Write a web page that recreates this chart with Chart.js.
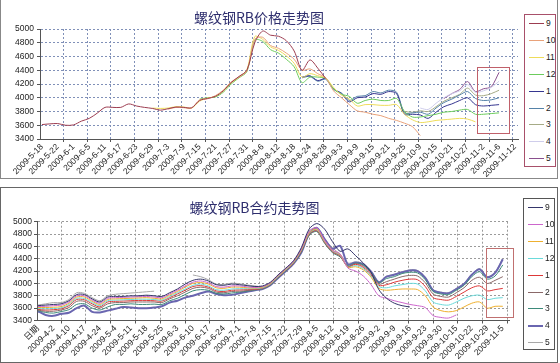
<!DOCTYPE html>
<html>
<head>
<meta charset="utf-8">
<script src="https://cdn.jsdelivr.net/npm/chart.js@4.4.0/dist/chart.umd.min.js"></script>
<style>
  body { margin: 0; background: #fff; }
  #page { position: relative; width: 560px; height: 363px; overflow: hidden; background: #fff; }
  canvas { position: absolute; left: 0; }
  .frame { position: absolute; box-sizing: border-box; pointer-events: none; }
  .legend { position: absolute; box-sizing: border-box; background: #fff; }
  .legend .row { position: absolute; left: 0; width: 100%; height: 12px; }
  .legend .sw { position: absolute; left: 4px; top: 6px; width: 15px; height: 0; border-top: 1px solid; }
  .legend .lb { position: absolute; left: 21px; top: 0; font: 8.5px "Liberation Sans", Arial, sans-serif; line-height: 12px; color: #222; }
</style>
</head>
<body>
<div id="page">
  <div class="frame" style="left:0;top:-1px;width:558px;height:180px;border:1px solid #888;"></div>
  <div class="frame" style="left:0;top:187px;width:558px;height:176px;border:1px solid #666;"></div>
  <canvas id="topChart" width="560" height="180" style="top:0"></canvas>
  <canvas id="bottomChart" width="560" height="176" style="top:187px"></canvas>
  <div id="topLegend" class="legend" style="left:524px;top:14px;width:32px;height:153px;border:1px solid #a8506a;"></div>
  <div id="bottomLegend" class="legend" style="left:523px;top:198px;width:32px;height:152px;border:1px solid #555;"></div>
</div>
<script>
const seriesNames = ["9", "10", "11", "12", "1", "2", "3", "4", "5"];
const yTicks = [3400, 3600, 3800, 4000, 4200, 4400, 4600, 4800, 5000];

// upper chart: one x unit = one date label (4 trading days), values every half unit
const topLabels = ["2009-5-18", "2009-5-22", "2009-6-1", "2009-6-5", "2009-6-11", "2009-6-17", "2009-6-23",
  "2009-6-29", "2009-7-3", "2009-7-9", "2009-7-15", "2009-7-21", "2009-7-27", "2009-7-31", "2009-8-6",
  "2009-8-12", "2009-8-18", "2009-8-24", "2009-8-28", "2009-9-3", "2009-9-9", "2009-9-15", "2009-9-21",
  "2009-9-25", "2009-10-9", "2009-10-15", "2009-10-21", "2009-10-27", "2009-11-2", "2009-11-6", "2009-11-12"];
const topStarts = [0, 8, 7, 10, 16.5, 16.5, 23, 24, 25.5];
const top9 = [3610, 3620, 3625, 3600, 3605, 3660, 3700, 3775, 3860, 3860, 3860, 3910, 3880, 3860, 3845, 3820,
  3840, 3865, 3860, 3855, 3960, 3990, 4020, 4100, 4220, 4310, 4400, 4800, 4970, 4910, 4895, 4830, 4680, 4400,
  4550, 4430, 4280];
const top10 = [3835, 3860, 3855, 3850, 3970, 3985, 4030, 4110, 4230, 4300, 4390, 4850, 4880, 4760, 4720, 4650,
  4560, 4400, 4420, 4350, 4290, 4100, 4000, 3900, 3810, 3790, 3760, 3740, 3700, 3670, 3630, 3580, 3450];
const top11 = [3850, 3845, 3850, 3870, 3865, 3850, 3950, 3995, 4020, 4095, 4215, 4300, 4410, 4890, 4850, 4740,
  4690, 4610, 4500, 4300, 4350, 4320, 4285, 4150, 4040, 3980, 3880, 3900, 3900, 3890, 3890, 3900, 3760, 3680,
  3640, 3650, 3670, 3680, 3690, 3700, 3690, 3650];
const top12 = [3980, 4000, 4010, 4080, 4200, 4290, 4380, 4840, 4820, 4700, 4650, 4560, 4450, 4220, 4300, 4300,
  4280, 4130, 4050, 4020, 3920, 3960, 3980, 3960, 3960, 3990, 3800, 3720, 3720, 3740, 3760, 3790, 3800, 3820,
  3830, 3760, 3760, 3770, 3780];
const top1 = [4300, 4320, 4250, 4280, 4130, 4060, 3940, 4000, 4010, 4060, 4050, 4090, 4060, 3760, 3760, 3750,
  3700, 3790, 3870, 3910, 3960, 4000, 3900, 3880, 3890, 3900];
const top2 = [4290, 4310, 4240, 4270, 4120, 4070, 3960, 4020, 4030, 4090, 4070, 4110, 4080, 3780, 3780, 3790,
  3760, 3850, 3930, 3980, 4040, 4090, 3990, 3960, 3970, 4000];
const top3 = [3800, 3790, 3810, 3800, 3870, 3950, 4000, 4050, 4140, 4040, 4030, 4060, 4110];
const top4 = [3850, 3830, 3920, 4000, 4060, 4100, 4190, 4080, 4100, 4150, 4240];
const top5 = [3990, 4060, 4120, 4235, 4090, 4130, 4160, 4370];
const topColors = ["#9c3c50", "#e9a27a", "#eedc5a", "#6ccc5c", "#363690", "#5582a8", "#a6ab86", "#cfcdeb", "#8a4f8e"];

// lower chart: one x unit = one date label (5 trading days), values every half unit
const bottomLabels = ["日期", "2009-4-2", "2009-4-10", "2009-4-17", "2009-4-24", "2009-5-4", "2009-5-11",
  "2009-5-18", "2009-5-25", "2009-6-3", "2009-6-10", "2009-6-17", "2009-6-24", "2009-7-1", "2009-7-8",
  "2009-7-15", "2009-7-22", "2009-7-29", "2009-8-5", "2009-8-12", "2009-8-19", "2009-8-26", "2009-9-2",
  "2009-9-9", "2009-9-16", "2009-9-23", "2009-9-30", "2009-10-15", "2009-10-22", "2009-10-29", "2009-11-5"];
const bottom9 = [3640, 3650, 3660, 3670, 3720, 3820, 3820, 3750, 3700, 3780, 3790, 3790, 3800, 3800, 3810, 3800,
  3790, 3850, 3910, 3990, 4050, 4070, 4040, 3980, 3970, 3990, 3980, 3965, 3950,
  3960, 4020, 4140, 4250, 4370, 4580, 4880, 4970, 4880, 4680, 4520,
  4560, 4450, 4330, 4180, 3900, 3760, 3680, 3640, 3620];
const bottom10 = [3625, 3630, 3640, 3650, 3700, 3800, 3800, 3730, 3680, 3760, 3770, 3775, 3780, 3785, 3790, 3780,
  3770, 3830, 3890, 3960, 4020, 4040, 4010, 3950, 3940, 3960, 3960, 3945, 3935,
  3950, 4010, 4130, 4240, 4360, 4560, 4840, 4900, 4700, 4540, 4480,
  4250, 4200, 4120, 3980, 3800, 3760, 3720, 3690, 3660, 3640, 3610, 3480, 3450, 3440, 3490];
const bottom11 = [3610, 3610, 3615, 3625, 3680, 3780, 3780, 3710, 3660, 3740, 3750, 3755, 3760, 3765, 3770, 3760,
  3750, 3810, 3870, 3940, 4000, 4015, 3990, 3930, 3920, 3940, 3940, 3930, 3925,
  3940, 4000, 4120, 4230, 4350, 4550, 4820, 4880, 4690, 4540, 4470,
  4260, 4270, 4220, 4100, 3920, 3890, 3900, 3910, 3910, 3900, 3800, 3620, 3560, 3540, 3560, 3620, 3680, 3700,
  3600, 3630, 3630];
const bottom12 = [3595, 3590, 3595, 3605, 3660, 3760, 3755, 3690, 3640, 3720, 3730, 3735, 3740, 3745, 3745, 3740,
  3730, 3790, 3850, 3910, 3970, 3990, 3960, 3900, 3890, 3910, 3915, 3915, 3915,
  3930, 3990, 4110, 4220, 4340, 4540, 4810, 4870, 4680, 4530, 4460,
  4265, 4290, 4240, 4120, 3950, 3930, 3960, 3980, 4000, 3990, 3880, 3700, 3660, 3650, 3700, 3760, 3800, 3810,
  3740, 3760, 3770];
const bottom1 = [3580, 3570, 3575, 3590, 3640, 3740, 3735, 3670, 3620, 3700, 3710, 3715, 3720, 3725, 3725, 3720,
  3715, 3770, 3830, 3890, 3950, 3965, 3940, 3880, 3870, 3890, 3895, 3900, 3905,
  3925, 3985, 4105, 4215, 4335, 4530, 4800, 4860, 4670, 4520, 4450,
  4270, 4310, 4260, 4140, 3970, 3980, 4020, 4050, 4070, 4060, 3950, 3770, 3740, 3730, 3790, 3860, 3930, 3960,
  3880, 3900, 3920];
const bottom2 = [3570, 3550, 3550, 3570, 3610, 3710, 3710, 3640, 3600, 3670, 3690, 3690, 3700, 3700, 3700, 3700,
  3690, 3750, 3800, 3860, 3920, 3940, 3920, 3860, 3850, 3870, 3875, 3885, 3900,
  3920, 3980, 4100, 4210, 4330, 4520, 4790, 4850, 4660, 4510, 4440,
  4275, 4320, 4280, 4160, 3990, 4030, 4070, 4110, 4130, 4120, 4010, 3830, 3790, 3780, 3850, 3930, 4050, 4100,
  4000, 4050, 4110];
const bottom3 = [3560, 3530, 3520, 3545, 3575, 3660, 3670, 3600, 3570, 3620, 3660, 3660, 3670, 3660, 3660, 3665,
  3660, 3720, 3760, 3820, 3880, 3900, 3890, 3840, 3830, 3845, 3860, 3875, 3895,
  3915, 3975, 4095, 4205, 4325, 4510, 4780, 4840, 4650, 4500, 4430,
  4285, 4330, 4300, 4180, 4010, 4080, 4110, 4160, 4180, 4170, 4060, 3870, 3830, 3820, 3890, 3970, 4110, 4190,
  4070, 4120, 4300];
const bottom4 = [3550, 3490, 3475, 3510, 3525, 3600, 3640, 3540, 3530, 3560, 3590, 3620, 3610, 3600, 3600, 3610,
  3630, 3690, 3720, 3770, 3800, 3840, 3870, 3830, 3810, 3815, 3840, 3865, 3890,
  3910, 3970, 4090, 4200, 4320, 4500, 4800, 4900, 4720, 4560, 4610,
  4310, 4340, 4310, 4190, 4020, 4110, 4140, 4180, 4210, 4200, 4090, 3890, 3850, 3840, 3910, 3990, 4140, 4230,
  4100, 4170, 4390];
const bottom5 = [3650, 3670, 3690, 3690, 3740, 3850, 3840, 3770, 3720, 3800, 3825, 3835, 3845, 3855, 3865, 3875,
  null, null, null, null,
  4137, 4110, 4060, 3990, 3985, 4005, 3995, 3975, 3960,
  3950, 4010, 4130, 4240, 4360, 4560, 4850, 4900, 4720, 4580, 4470,
  4330, 4350, 4320, 4200, 4030, 4120, 4150, 4190, 4220, 4210, 4100, 3900, 3860, 3850, 3920, 4000, 4150, 4240,
  4110, 4180, 4410];
const bottomColors = ["#35366a", "#cc66cc", "#eeb030", "#6adada", "#dd3838", "#8a6868", "#3d8a7a", "#6a66b0", "#a8a8a8"];
const bottomWidths = [1, 1, 1, 1, 1, 1, 1, 2, 1];

const FONT = '"Liberation Sans", Arial, "Noto Sans CJK SC", sans-serif';

function toPoints(start, vals) {
  return vals.map((v, j) => ({ x: start + j * 0.5, y: v }));
}

function buildLegend(el, colors, widths) {
  seriesNames.forEach((name, i) => {
    const row = document.createElement("div");
    row.className = "row";
    row.style.top = (2 + i * 16.9) + "px";
    const w = widths ? widths[i] : 1;
    row.innerHTML = `<span class="sw" style="border-color:${colors[i]};border-top-width:${w}px"></span><span class="lb">${name}</span>`;
    el.appendChild(row);
  });
}

function makeChart(id, cfg) {
  const tickVals = cfg.labels.map((_, i) => i);
  for (let m = 1; m <= cfg.gridCount; m++) tickVals.push(cfg.gridFirst + (m - 1) * cfg.gridStep);
  tickVals.sort((a, b) => a - b);
  const isGrid = v => !Number.isInteger(v);

  // red highlight frame over the latest stretch
  const boxPlugin = {
    id: "markBox",
    afterDatasetsDraw(chart) {
      const { x, y } = chart.scales;
      const b = cfg.box;
      const ctx = chart.ctx;
      ctx.save();
      ctx.strokeStyle = b.color;
      ctx.lineWidth = 1;
      const x0 = Math.round(x.getPixelForValue(b.x0)) + 0.5;
      const x1 = Math.round(x.getPixelForValue(b.x1)) + 0.5;
      const y0 = Math.round(y.getPixelForValue(b.y1)) + 0.5;
      const y1 = Math.round(y.getPixelForValue(b.y0)) + 0.5;
      ctx.strokeRect(x0, y0, x1 - x0, y1 - y0);
      ctx.restore();
    }
  };

  return new Chart(document.getElementById(id), {
    type: "line",
    data: {
      datasets: cfg.series.map((vals, i) => ({
        label: seriesNames[i],
        data: toPoints(cfg.starts[i], vals),
        borderColor: cfg.colors[i],
        borderWidth: cfg.widths ? cfg.widths[i] : 1,
        pointRadius: 0,
        tension: 0.3,
        fill: false,
        spanGaps: false
      }))
    },
    options: {
      responsive: false,
      animation: false,
      events: [],
      layout: { padding: { left: 0, right: cfg.rightPad, top: 0, bottom: 0 } },
      plugins: {
        legend: { display: false },
        tooltip: { enabled: false },
        title: {
          display: true,
          text: cfg.title,
          color: "#2e2e6e",
          font: { size: 14, family: '"Noto Sans CJK SC", sans-serif', weight: "normal", lineHeight: 1.2 },
          padding: cfg.titlePad
        }
      },
      scales: {
        x: {
          type: "linear",
          min: cfg.xMin,
          max: cfg.xMax,
          bounds: "data",
          afterBuildTicks: s => { s.ticks = tickVals.map(v => ({ value: v })); },
          afterFit: s => { s.height = cfg.xHeight; },
          ticks: {
            autoSkip: false,
            minRotation: 45,
            maxRotation: 45,
            padding: 0,
            color: "#222",
            font: { size: 8.5, family: FONT },
            callback: v => (Number.isInteger(v) ? cfg.labels[v] : "")
          },
          grid: {
            color: c => (c.tick && isGrid(c.tick.value) ? cfg.gridColor : "rgba(0,0,0,0)"),
            tickColor: c => (c.tick && isGrid(c.tick.value) ? "#555" : "rgba(0,0,0,0)"),
            tickLength: 3,
            lineWidth: 1
          },
          border: { display: true, color: "#555", width: 1, dash: [2, 2] }
        },
        y: {
          min: 3400,
          max: 5000,
          afterBuildTicks: s => { s.ticks = yTicks.map(v => ({ value: v })); },
          afterFit: s => { s.width = cfg.yWidth; },
          ticks: {
            autoSkip: false,
            color: "#222",
            padding: cfg.yPad,
            font: { size: 8.5, family: FONT },
            callback: v => String(v)
          },
          grid: { color: cfg.gridColor, tickColor: "#555", tickLength: 3, lineWidth: 1 },
          border: { display: true, color: "#555", width: 1, dash: [2, 2] }
        }
      }
    },
    plugins: [boxPlugin]
  });
}

makeChart("topChart", {
  title: "螺纹钢RB价格走势图",
  titlePad: { top: 9.6, bottom: 2.6 },
  labels: topLabels,
  series: [top9, top10, top11, top12, top1, top2, top3, top4, top5],
  starts: topStarts,
  colors: topColors,
  xMin: -0.125, xMax: 30.2,
  gridFirst: 1.375, gridStep: 1.5, gridCount: 20,
  gridColor: "#8090b8",
  yWidth: 40, yPad: 3, xHeight: 41, rightPad: 42,
  box: { x0: 27.6, x1: 29.6, y0: 3490, y1: 4450, color: "#c0606a" }
});

makeChart("bottomChart", {
  title: "螺纹钢RB合约走势图",
  titlePad: { top: 12.6, bottom: 5.3 },
  labels: bottomLabels,
  series: [bottom9, bottom10, bottom11, bottom12, bottom1, bottom2, bottom3, bottom4, bottom5],
  starts: [0, 0, 0, 0, 0, 0, 0, 0, 0],
  colors: bottomColors,
  widths: bottomWidths,
  xMin: -0.06, xMax: 30.4,
  gridFirst: 1.5, gridStep: 1.6, gridCount: 19,
  gridColor: "#9a9a9a",
  yWidth: 37, yPad: 2, xHeight: 42.5, rightPad: 51,
  box: { x0: 28.9, x1: 30.65, y0: 3460, y1: 4575, color: "#c07070" }
});

buildLegend(document.getElementById("topLegend"), topColors);
buildLegend(document.getElementById("bottomLegend"), bottomColors, bottomWidths);
</script>
</body>
</html>
